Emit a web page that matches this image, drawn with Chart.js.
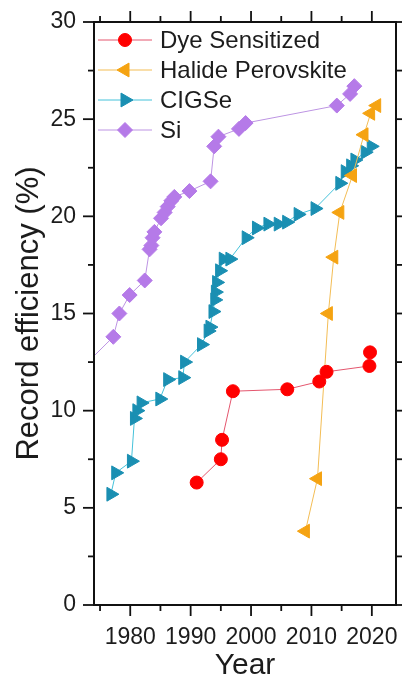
<!DOCTYPE html>
<html>
<head>
<meta charset="utf-8">
<script src="https://cdn.jsdelivr.net/npm/chart.js@4.4.1/dist/chart.umd.min.js"></script>
<style>
  html, body { margin: 0; padding: 0; background: #fff; }
</style>
</head>
<body>
<canvas id="effChart" width="402" height="682"></canvas>
<script>
// --- data ---
const dyeYears = [1991, 1995, 1995.2, 1997, 2006, 2011.3, 2012.5, 2019.6, 2019.7];
const dyeEff = [6.3, 7.5, 8.5, 11.0, 11.1, 11.5, 12.0, 12.3, 13.0];

const perovYears = [2009, 2011, 2012.8, 2013.7, 2014.7, 2016.8, 2018.7, 2019.8, 2020.8];
const perovEff = [3.8, 6.5, 15.0, 17.9, 20.2, 22.1, 24.2, 25.3, 25.7];

const cigsYears = [1976.8, 1977.6, 1980.2, 1980.7, 1981.1, 1981.8, 1984.9, 1986.2, 1988.7, 1989.0,
  1991.8, 1992.9, 1993.2, 1993.7, 1994.0, 1994.1, 1994.3, 1994.8, 1995.4, 1996.5,
  1999.2, 2000.9, 2002.8, 2004.5, 2005.9, 2007.8, 2010.6, 2014.7, 2015.6, 2016.5,
  2017.2, 2018.9, 2019.9];
const cigsEff = [5.7, 6.8, 7.4, 9.6, 10.0, 10.4, 10.6, 11.6, 11.7, 12.5,
  13.4, 14.1, 14.3, 15.1, 15.7, 16.1, 16.6, 17.2, 17.8, 17.8,
  18.9, 19.4, 19.6, 19.6, 19.7, 20.1, 20.4, 21.7, 22.3, 22.6,
  22.9, 23.3, 23.6];

const siYears = [1972, 1977.2, 1978.2, 1979.9, 1982.4, 1983.2, 1983.5, 1983.7, 1984.0, 1985.1,
  1985.7, 1986.2, 1986.8, 1987.3, 1989.8, 1993.3, 1993.9, 1994.6, 1998.0, 1999.1,
  2014.2, 2016.4, 2017.1];
const siEff = [12.2, 13.8, 15.0, 15.95, 16.7, 18.3, 18.5, 18.9, 19.2, 19.9,
  20.2, 20.5, 20.8, 21.0, 21.3, 21.8, 23.6, 24.1, 24.5, 24.8,
  25.7, 26.3, 26.7];

const seriesNames = ['Dye Sensitized', 'Halide Perovskite', 'CIGSe', 'Si'];
const xTicks = [1980, 1990, 2000, 2010, 2020];
const yTicks = [0, 5, 10, 15, 20, 25, 30];

const FONT = "Arial, 'Liberation Sans', sans-serif";
const TEXT = '#1c1c1c';

const pts = (xs, ys) => xs.map((x, i) => ({ x: x, y: ys[i] }));

const styles = [
  { marker: '#ff0000', line: '#e4566e', pointStyle: 'circle', rotation: 0, radius: 6.5 },
  { marker: '#f5a312', line: '#f3bd55', pointStyle: 'triangle', rotation: -90, radius: 8 },
  { marker: '#1a8fb2', line: '#45c2da', pointStyle: 'triangle', rotation: 90, radius: 8 },
  { marker: '#b57ae8', line: '#bd94e3', pointStyle: 'rectRot', rotation: 0, radius: 7.5 }
];
const seriesData = [pts(dyeYears, dyeEff), pts(perovYears, perovEff), pts(cigsYears, cigsEff), pts(siYears, siEff)];

const datasets = seriesNames.map((name, i) => ({
  label: name,
  data: seriesData[i],
  borderColor: styles[i].line,
  borderWidth: 1,
  backgroundColor: styles[i].marker,
  pointBackgroundColor: styles[i].marker,
  pointBorderColor: styles[i].marker,
  pointBorderWidth: 1,
  pointStyle: styles[i].pointStyle,
  pointRotation: styles[i].rotation,
  pointRadius: styles[i].radius,
  tension: 0
}));

// frame with outward major/minor ticks on all four sides
const framePlugin = {
  id: 'frame',
  afterDatasetsDraw(chart) {
    const { ctx, chartArea: a, scales: { x, y } } = chart;
    ctx.save();
    ctx.strokeStyle = '#111';
    ctx.lineWidth = 2;
    ctx.strokeRect(a.left, a.top, a.right - a.left, a.bottom - a.top);
    ctx.lineWidth = 1.8;
    const tick = (x1, y1, x2, y2) => { ctx.beginPath(); ctx.moveTo(x1, y1); ctx.lineTo(x2, y2); ctx.stroke(); };
    const xMinor = xTicks.map(v => v - 5);
    xTicks.forEach(v => { const px = x.getPixelForValue(v); tick(px, a.bottom, px, a.bottom + 11); tick(px, a.top, px, a.top - 11); });
    xMinor.forEach(v => { const px = x.getPixelForValue(v); tick(px, a.bottom, px, a.bottom + 6); tick(px, a.top, px, a.top - 6); });
    yTicks.forEach(v => { const py = y.getPixelForValue(v); tick(a.left, py, a.left - 11, py); tick(a.right, py, a.right + 11, py); });
    yTicks.slice(1).forEach(v => { const py = y.getPixelForValue(v - 2.5); tick(a.left, py, a.left - 6, py); tick(a.right, py, a.right + 6, py); });
    ctx.restore();
  }
};

// legend drawn inside the plot: line sample + marker + label
const legendPlugin = {
  id: 'inLegend',
  afterDraw(chart) {
    const { ctx } = chart;
    ctx.save();
    ctx.font = '24px ' + FONT;
    ctx.textBaseline = 'middle';
    seriesNames.forEach((name, i) => {
      const yy = 40 + i * 30;
      const s = styles[i];
      ctx.strokeStyle = s.line;
      ctx.lineWidth = 1;
      ctx.beginPath(); ctx.moveTo(98, yy); ctx.lineTo(152, yy); ctx.stroke();
      ctx.fillStyle = s.marker;
      ctx.strokeStyle = s.marker;
      Chart.helpers.drawPoint(ctx, { pointStyle: s.pointStyle, rotation: s.rotation, radius: s.radius, borderWidth: 1 }, 125, yy);
      ctx.fillStyle = TEXT;
      ctx.fillText(name, 160, yy + 1);
    });
    ctx.restore();
  }
};

new Chart(document.getElementById('effChart'), {
  type: 'line',
  data: { datasets: datasets },
  options: {
    responsive: false,
    animation: false,
    devicePixelRatio: 1,
    layout: { autoPadding: false, padding: { top: 22, right: 6, left: 0, bottom: 0 } },
    plugins: { legend: { display: false }, tooltip: { enabled: false } },
    scales: {
      x: {
        type: 'linear',
        min: 1974,
        max: 2024,
        afterBuildTicks: s => { s.ticks = xTicks.map(v => ({ value: v })); },
        afterFit: s => { s.height = 77; s.paddingLeft = 0; s.paddingRight = 0; },
        grid: { display: false, drawTicks: false },
        border: { display: false },
        ticks: { color: TEXT, font: { family: FONT, size: 23 }, padding: 19, maxRotation: 0, autoSkip: false, callback: v => String(v) },
        title: { display: true, text: 'Year', color: TEXT, font: { family: FONT, size: 30, lineHeight: 1 }, padding: { top: 0, bottom: 1 } }
      },
      y: {
        min: 0,
        max: 30,
        afterBuildTicks: s => { s.ticks = yTicks.map(v => ({ value: v })); },
        afterFit: s => { s.width = 94; s.paddingTop = 0; s.paddingBottom = 0; },
        grid: { display: false, drawTicks: false },
        border: { display: false },
        ticks: { color: TEXT, font: { family: FONT, size: 23 }, padding: 18, callback: v => String(v) },
        title: { display: true, text: 'Record efficiency (%)', color: TEXT, font: { family: FONT, size: 31, lineHeight: 1 }, padding: { top: 14, bottom: 0 } }
      }
    }
  },
  plugins: [framePlugin, legendPlugin]
});
</script>
</body>
</html>
